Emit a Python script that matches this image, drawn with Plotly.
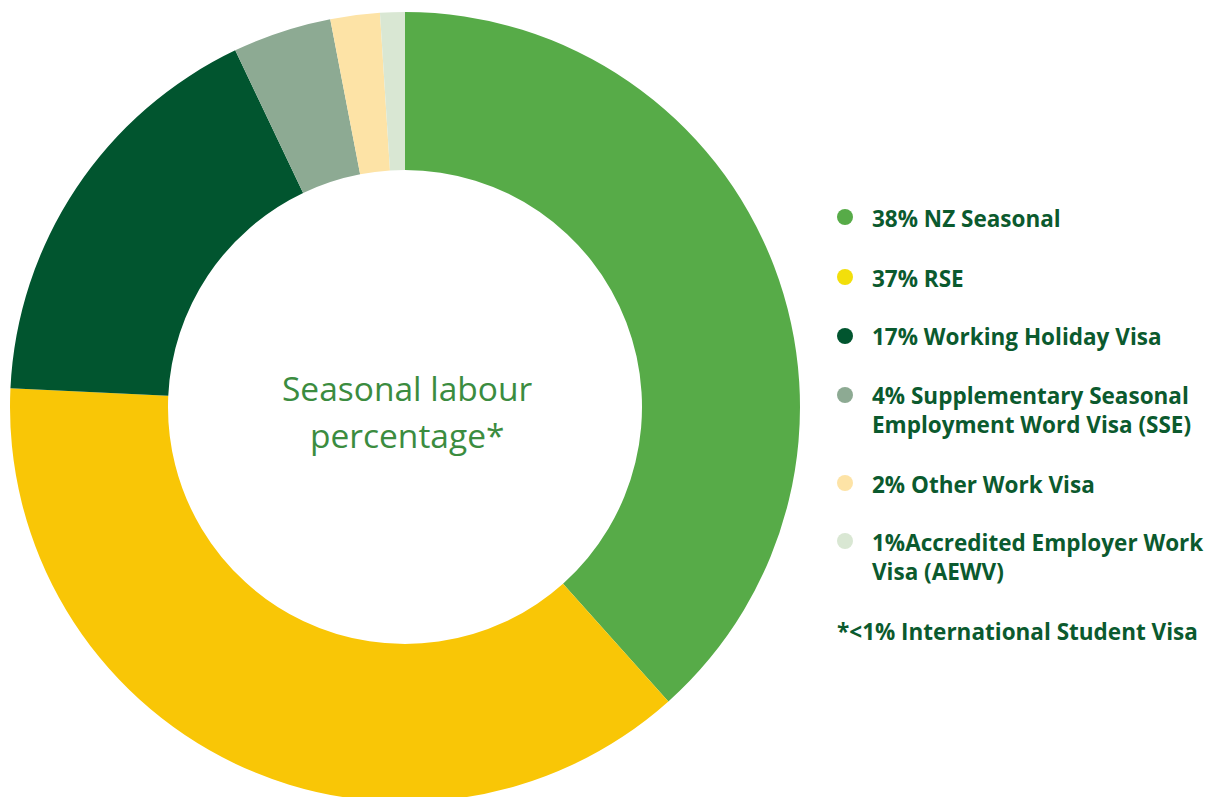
import plotly.graph_objects as go

# Data
categories = ["NZ Seasonal", "RSE", "Working Holiday Visa",
              "Supplementary Seasonal Employment Word Visa (SSE)",
              "Other Work Visa", "Accredited Employer Work Visa (AEWV)"]
values = [38, 37, 17, 4, 2, 1]
slice_colors = ["#57ab48", "#f9c606", "#01552f", "#8daa93", "#fde3a6", "#d9e7d3"]
legend_labels = ["38% NZ Seasonal", "37% RSE", "17% Working Holiday Visa",
                 "4% Supplementary Seasonal<br>Employment Word Visa (SSE)",
                 "2% Other Work Visa",
                 "1%Accredited Employer Work<br>Visa (AEWV)"]
legend_marker_colors = ["#57ab48", "#f2df0b", "#01552f", "#8daa93", "#fde3a6", "#d9e7d3"]
footnote = "*<1% International Student Visa"
center_lines = ["Seasonal labour", "percentage*"]

W, H = 1220, 797
OFF = 8  # page body offset
TEXT_COLOR = "#0b5a2e"
LEG_FONT = "Open Sans"
LEG_SIZE = 22.5


def px(x):
    return (x - OFF) / W


def py(y):
    return 1 - (y - OFF) / H


fig = go.Figure()
cx, cy, R = 405, 407, 395
fig.add_trace(go.Pie(
    labels=categories, values=values, sort=False, direction="clockwise",
    rotation=0, hole=0.6, marker=dict(colors=slice_colors, line=dict(width=0)),
    textinfo="none", hoverinfo="label+percent", showlegend=False,
    domain=dict(x=[px(cx - R), px(cx + R)], y=[py(cy + R), py(cy - R)]),
))

annotations = []
for t, yc in zip(center_lines, [388, 435]):
    annotations.append(dict(
        text=t, x=px(cx + 2), y=py(yc), xref="paper", yref="paper",
        showarrow=False, xanchor="center", yanchor="middle",
        font=dict(family="Open Sans", size=33.5, color="#3b8c3f"),
    ))
shapes = []
line_h = 29
row_tops = [217, 277, 336, 395, 483, 541]
for lbl, col, yc in zip(legend_labels, legend_marker_colors, row_tops):
    r = 8
    shapes.append(dict(type="circle", xref="paper", yref="paper",
                       x0=px(845 - r), x1=px(845 + r),
                       y0=py(yc + r), y1=py(yc - r),
                       fillcolor=col, line=dict(width=0)))
    annotations.append(dict(
        text="<b>" + lbl + "</b>", x=px(870), y=py(yc - line_h / 2 - 2),
        xref="paper", yref="paper", showarrow=False, xanchor="left", yanchor="top",
        align="left", font=dict(family=LEG_FONT, size=LEG_SIZE, color=TEXT_COLOR),
    ))
annotations.append(dict(
    text="<b>" + footnote + "</b>", x=px(835), y=py(630 - line_h / 2 - 2),
    xref="paper", yref="paper", showarrow=False, xanchor="left", yanchor="top",
    align="left", font=dict(family=LEG_FONT, size=LEG_SIZE, color=TEXT_COLOR),
))

fig.update_layout(
    width=W, height=H, margin=dict(l=0, r=0, t=0, b=0),
    paper_bgcolor="white", plot_bgcolor="white",
    annotations=annotations, shapes=shapes, showlegend=False,
)
fig.write_html("out.html")
